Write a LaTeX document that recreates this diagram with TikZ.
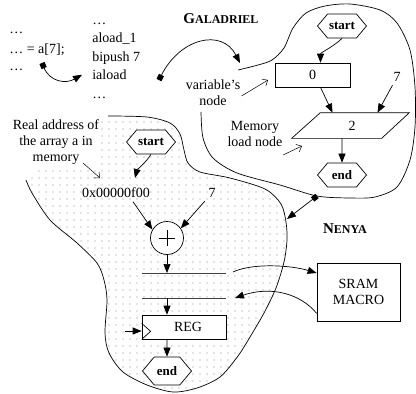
\documentclass[tikz,border=0pt]{standalone}
\usepackage{fontspec}
\setmainfont{Liberation Serif}
\usetikzlibrary{arrows.meta,shapes.geometric,shapes.symbols,patterns.meta}

\tikzset{
  arr/.style={-{Triangle[length=9pt,width=7pt]}},
  sqarr/.style={{Square[length=5.5pt,width=5.5pt]}-{Triangle[length=9pt,width=7pt]}},
  ptr/.style={-{Straight Barb[length=4.5pt,width=8pt]}, line width=0.5pt},
  hexa/.style={draw, fill=white, signal, signal to=east and west, signal pointer angle=100,
    minimum width=49pt, minimum height=24pt, inner sep=0pt, font=\fontsize{13}{15}\selectfont\bfseries},
  box/.style={draw, fill=white, inner sep=0pt},
  note/.style={fill=white, align=center, inner sep=1pt},
  busline/.style={black!75}
}

\begin{document}
\begin{tikzpicture}[x=1pt,y=-1pt,line width=0.7pt,font=\fontsize{14}{16}\selectfont]
\useasboundingbox (0,0) rectangle (416,394);

% the two rings
\draw[pattern={Dots[distance=6.5pt,radius=0.65pt]},pattern color=black!45]
  plot[smooth] coordinates {(108,116) (147,117) (170,123) (180,134) (184,150) (188,163)
    (200,172) (230,178) (265,189) (281,204) (286,222) (287,240) (284,262) (276,288)
    (264,313) (250,337) (238,356) (220,377) (197,388) (173,392) (147,385) (123,372)
    (109,353) (105,333) (107,300) (104,280) (97,263) (77,243) (50,220) (32,193) (26,180)};
\draw plot[smooth] coordinates {(238,70) (258,65) (272,60) (284,48) (293,28) (306,13)
    (325,6) (350,4) (380,10) (397,23) (410,50) (415,87) (415,127) (410,160) (397,187)
    (375,197) (350,198) (317,196) (280,185) (237,173) (213,158) (203,138) (201,112)};

\node[font=\bfseries] (galname) at (221,19)
  {{\fontsize{15}{17}\selectfont G}{\fontsize{12}{14}\selectfont ALADRIEL}};
\node[font=\bfseries] (nenname) at (345,229)
  {{\fontsize{15}{17}\selectfont N}{\fontsize{12}{14}\selectfont ENYA}};

% source and bytecode
\foreach \txt/\yb [count=\i] in {…/33, … = a[7];/53, …/70}
  \node[anchor=base west, inner sep=0pt] (src\i) at (9,\yb) {\txt};
\foreach \txt/\yb [count=\i] in {…/24, aload\_1/42.5, bipush 7/61, iaload/79.5, …/98}
  \node[anchor=base west, inner sep=0pt] (bc\i) at (92,\yb) {\txt};
\coordinate (srcsq) at (42,63);
\coordinate (bcsq) at (159,80);
\coordinate (galin) at (240,63);
\draw[sqarr] (srcsq) .. controls (50,82) and (66,84) .. ([xshift=-10pt]bc4.west);
\draw[sqarr] (bcsq) .. controls (180,38) and (222,28) .. (galin);

% notes
\node[note] (varnote) at (213,93) {variable's\\node};
\node[note] (memnote) at (255,134) {Memory\\load node};
\node[note] (addrnote) at (56,142) {Real address of\\the array a in\\memory};
\coordinate (varhead) at (268,80);
\coordinate (memtail) at (283,155);
\coordinate (memhead) at (302,146);
\coordinate (addrtail) at (83,163);
\coordinate (addrhead) at (100,178);
\draw[ptr] ([yshift=-3pt]varnote.east) -- (varhead);
\draw[ptr] (memtail) -- (memhead);
\draw[ptr] (addrtail) -- (addrhead);

% galadriel graph
\node[hexa] (galstart) at (342,26) {start};
\node[box, minimum width=75pt, minimum height=24pt] (galzero) at (312.5,75) {0};
\node[minimum width=117pt, minimum height=25pt, inner sep=0pt] (galload) at (350.5,125.5) {};
\draw[fill=white] (galload.south west) -- ++(90,0) -- (galload.north east) -- ++(-89,0) -- cycle;
\node (galtwo) at (352,126) {2};
\node[hexa] (galend) at (342,175) {end};
\node (galseven) at (397,77) {7};
\draw[arr] (galstart.south) .. controls +(-8,8) and +(0,-10) .. ([xshift=8pt]galzero.north);
\draw[arr] ([xshift=8pt]galzero.south) -- ([xshift=-18pt]galload.north);
\draw[arr] (galseven) -- ([xshift=27pt]galload.north);
\draw[arr] (galend |- galload.south) -- (galend);

% nenya datapath
\node[hexa] (nenstart) at (151,142) {start};
\node (nenaddr) at (116,193) {0x00000f00};
\node (nenseven) at (212,193) {7};
\node[draw, circle, fill=white, minimum size=33pt, inner sep=0pt] (nenadd) at (167,238) {};
\draw (nenadd.center) +(-8,0) -- +(8,0) (nenadd.center) +(0,-8) -- +(0,8);
\coordinate (addrin) at (135,178);
\draw[arr] (nenstart.south) .. controls +(-5,8) and +(2,-8) .. (addrin);
\draw[arr] ([xshift=17pt]nenaddr.south) -- (nenadd.150);
\draw[arr] (nenseven) -- (nenadd.35);

\coordinate (busaw) at (142,273);
\coordinate (busae) at (226,273);
\coordinate (busbw) at (142,298);
\coordinate (busbe) at (226,298);
\draw[busline] (busaw) -- (busae);
\draw[busline] (busbw) -- (busbe);
\draw[arr] (nenadd) -- (nenadd |- busaw);

\node[box, minimum width=84pt, minimum height=24pt] (nenreg) at (184,327) {\hspace{8pt}REG};
\draw[arr] (nenadd |- busbw) -- (nenadd |- nenreg.north);
\draw (nenreg.south west) -- ++(9,-8) -- ++(-9,-8);
\coordinate (clkin) at (125,331);
\draw[arr] (clkin) -- (clkin -| nenreg.west);
\node[hexa, minimum height=28pt] (nenend) at (167,371) {end};
\draw[arr] (nenend |- nenreg.south) -- (nenend);

% memory macro
\node[box, minimum width=83pt, minimum height=58pt, align=center] (sram) at (358.5,292) {SRAM\\MACRO};
\coordinate (busaout) at (233,272);
\coordinate (busbin) at (235,298);
\draw[arr] (busaout) .. controls (252,263) and (290,265) .. (sram.west |- busaw);
\draw[arr] ([yshift=8pt]sram.south west) .. controls (300,293) and (270,286) .. (busbin);

% link between the rings
\coordinate (galsq) at (317,196);
\coordinate (nenin) at (287,219);
\draw[sqarr] (galsq) -- (nenin);
\end{tikzpicture}
\end{document}
